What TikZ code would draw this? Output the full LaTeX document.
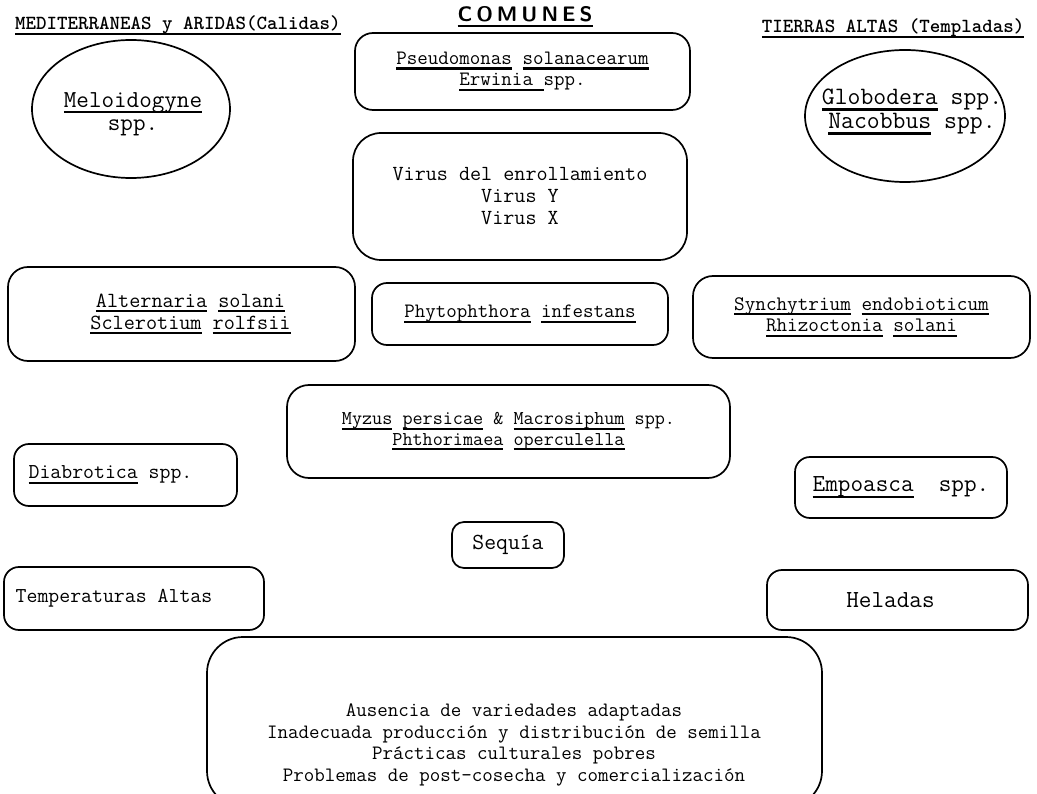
\documentclass[tikz,border=0pt]{standalone}
\usetikzlibrary{shapes.geometric}
\newbox\ulbox
\newcommand\uln[1]{\setbox\ulbox\hbox{#1}\rlap{\vrule width\wd\ulbox height -0.15em depth 0.25em}\box\ulbox}
\newcommand\tsz[2]{\fontsize{#1}{#2}\selectfont\ttfamily}
\begin{document}
\begin{tikzpicture}[x=1pt,y=-1pt,
  box/.style={draw, line width=1.7pt, rounded corners=#1, inner sep=0pt, align=center},
  box/.default=16pt,
  oval/.style={draw, ellipse, line width=1.7pt, inner sep=0pt},
  lbl/.style={inner sep=0pt, align=center},
  head/.style={inner sep=0pt, anchor=base, font={\tsz{20}{22}\bfseries}}]
\useasboundingbox (0,0) rectangle (1037,794);
\clip (0,0) rectangle (1037,794);
\fill[white] (0,0) rectangle (1037,794);

% headings
\node[head] (hl) at (178,30) {\uln{MEDITERRANEAS y ARIDAS(Calidas)}};
\node[head] (hr) at (893,33) {\uln{TIERRAS ALTAS (Templadas)}};
\node[inner sep=0pt, anchor=base, font={\fontsize{21}{22}\selectfont\sffamily\bfseries}] (hc) at (525,22)
  {\uln{C\hspace{4pt}O\hspace{4pt}M\hspace{4pt}U\hspace{4pt}N\hspace{4pt}E\hspace{4pt}S}};

% ellipses
\node[oval, minimum width=198pt, minimum height=138pt] (mel) at (131,109) {};
\node[lbl, font={\tsz{24.4}{23}}] (meltxt) at (133,114) {\uln{Meloidogyne}\\spp.};
\node[oval, minimum width=200pt, minimum height=132pt] (glo) at (905,116) {};
\node[lbl, font={\tsz{25}{24}}] (glotxt) at (912,112) {\uln{Globodera} spp.\\\uln{Nacobbus} spp.};

% common column
\node[box=18pt, minimum width=335pt, minimum height=77pt, font={\tsz{20.4}{21.5}}] (pseu) at (522.5,71.5)
  {\uln{Pseudomonas} \uln{solanacearum}\\\uln{Erwinia }spp.};
\node[box=28pt, minimum width=334pt, minimum height=127pt, font={\tsz{21.5}{22}}] (vir) at (520,196.5)
  {Virus del enrollamiento\\Virus Y\\Virus X};
\node[box=20pt, minimum width=347pt, minimum height=94pt, font={\tsz{21.6}{22}}] (alt) at (181.5,314)
  {\hspace*{18pt}\uln{Alternaria} \uln{solani}\\\hspace*{18pt}\uln{Sclerotium} \uln{rolfsii}};
\node[box=15pt, minimum width=296pt, minimum height=62pt, font={\tsz{20.4}{21.5}}] (phy) at (520,314)
  {\uln{Phytophthora} \uln{infestans}};
\node[box=20pt, minimum width=337pt, minimum height=82pt, font={\tsz{20.6}{21.5}}] (syn) at (861.5,317)
  {\uln{Synchytrium} \uln{endobioticum}\\\uln{Rhizoctonia} \uln{solani}};
\node[box=22pt, minimum width=443pt, minimum height=93pt, font={\tsz{19.6}{20.5}}] (myz) at (508.5,431.5)
  {\uln{Myzus} \uln{persicae} \& \uln{Macrosiphum} spp.\\\uln{Phthorimaea} \uln{operculella}};
\node[box=15pt, minimum width=223pt, minimum height=62pt, font={\tsz{21.2}{22}}] (dia) at (125.5,475)
  {\uln{Diabrotica} spp.\hspace*{30pt}};
\node[box=15pt, minimum width=212pt, minimum height=61pt, font={\tsz{24.5}{24}}] (emp) at (901,487.5)
  {\uln{Empoasca}\ \ spp.};
\node[box=12pt, minimum width=112pt, minimum height=46pt, font={\tsz{23}{24}}] (seq) at (508,545)
  {Sequía};
\node[box=15pt, minimum width=260pt, minimum height=63pt, font={\tsz{21.2}{22}}] (tem) at (134,598.5)
  {Temperaturas Altas\hspace*{40pt}};
\node[box=15pt, minimum width=261pt, minimum height=60pt, font={\tsz{24.5}{24}}] (hel) at (897.5,600)
  {\hspace*{-14pt}Heladas};
\node[box=36pt, minimum width=615pt, minimum height=170pt] (bot) at (514.5,722) {};
\node[lbl, font={\tsz{20.4}{21.5}}] (bottxt) at (514,745)
  {Ausencia de variedades adaptadas\\Inadecuada producción y distribución de semilla\\Prácticas culturales pobres\\Problemas de post-cosecha y comercialización};
\end{tikzpicture}
\end{document}
